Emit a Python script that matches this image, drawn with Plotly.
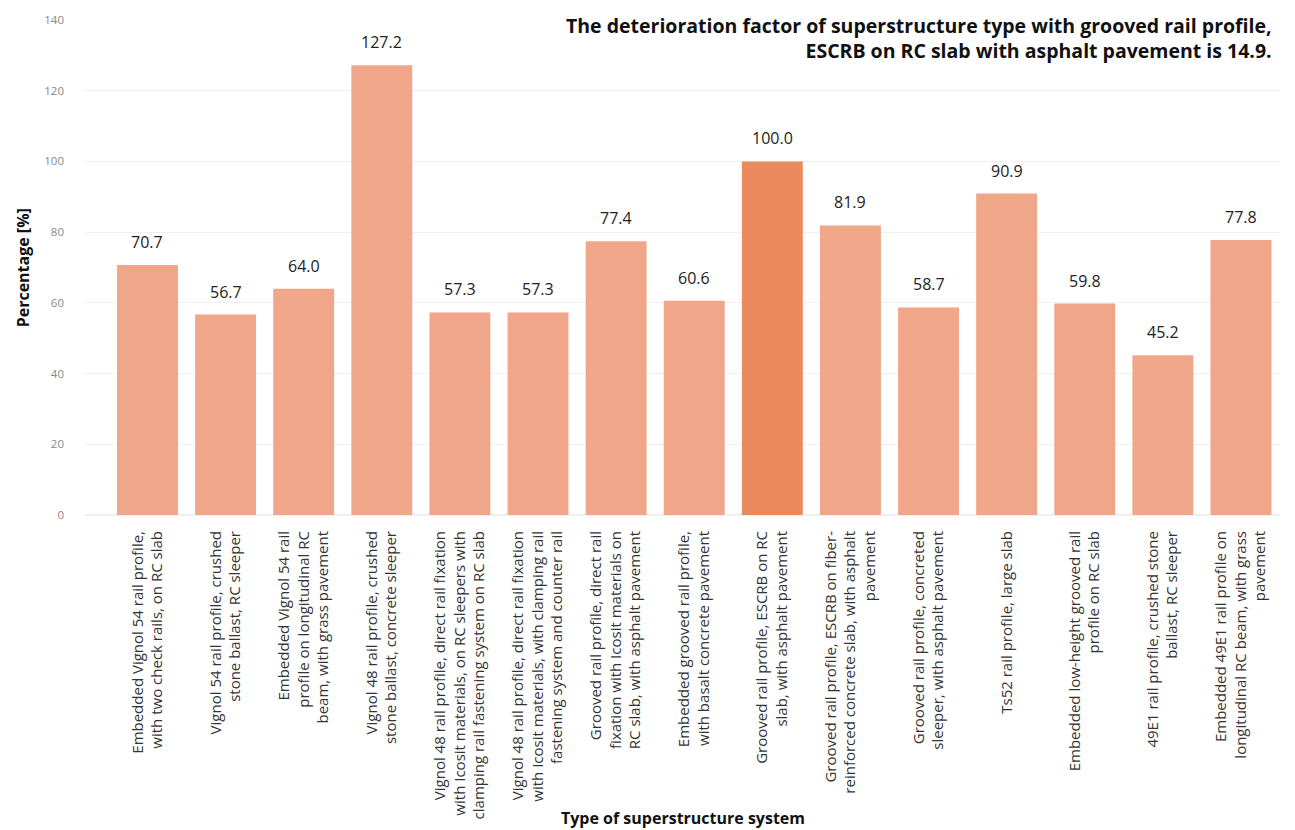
import plotly.graph_objects as go

# superstructure types (tick labels, line-broken as in the figure)
systems = [
    "Embedded Vignol 54 rail profile,<br>with two check rails, on RC slab",
    "Vignol 54 rail profile, crushed<br>stone ballast, RC sleeper",
    "Embedded Vignol 54 rail<br>profile on longitudinal RC<br>beam, with grass pavement",
    "Vignol 48 rail profile, crushed<br>stone ballast, concrete sleeper",
    "Vignol 48 rail profile, direct rail fixation<br>with Icosit materials, on RC sleepers with<br>clamping rail fastening system on RC slab",
    "Vignol 48 rail profile, direct rail fixation<br>with Icosit materials, with clamping rail<br>fastening system and counter rail",
    "Grooved rail profile, direct rail<br>fixation with Icosit materials on<br>RC slab, with asphalt pavement",
    "Embedded grooved rail profile,<br>with basalt concrete pavement",
    "Grooved rail profile, ESCRB on RC<br>slab, with asphalt pavement",
    "Grooved rail profile, ESCRB on fiber-<br>reinforced concrete slab, with asphalt<br>pavement",
    "Grooved rail profile, concreted<br>sleeper, with asphalt pavement",
    "Ts52 rail profile, large slab",
    "Embedded low-height grooved rail<br>profile on RC slab",
    "49E1 rail profile, crushed stone<br>ballast, RC sleeper",
    "Embedded 49E1 rail profile on<br>longitudinal RC beam, with grass<br>pavement",
]
percentage = [70.7, 56.7, 64.0, 127.2, 57.3, 57.3, 77.4, 60.6, 100.0, 81.9, 58.7, 90.9, 59.8, 45.2, 77.8]
reference_index = 8  # the 100 % system

colors = ["#EA8A5D" if i == reference_index else "#F0A689" for i in range(len(percentage))]

fig = go.Figure()
fig.add_trace(go.Bar(
    x=systems, y=percentage,
    marker=dict(color=colors, line=dict(width=0)),
))

# value labels above the bars
for s, v in zip(systems, percentage):
    fig.add_annotation(x=s, y=v, text=f"{v:.1f}", showarrow=False,
                       yanchor="bottom", yshift=10,
                       font=dict(size=16, color="#222222"))

fig.update_layout(
    width=1295, height=830,
    margin=dict(l=77, r=23, t=12, b=323, autoexpand=False),
    paper_bgcolor="white", plot_bgcolor="white",
    font=dict(family="Open Sans, sans-serif", color="#333333"),
    bargap=0.22,
    showlegend=False,
    xaxis=dict(
        tickangle=-90,
        tickfont=dict(size=15, color="#333333"),
        showgrid=False,
        range=[-0.8, 14.5],
        ticklabelstandoff=12,
    ),
    yaxis=dict(
        range=[0, 140], dtick=20,
        tickfont=dict(size=11.5, color="#888888"),
        gridcolor="#F0F0F0", zeroline=True, zerolinecolor="#F0F0F0",
        ticklabelstandoff=20,
    ),
)

fig.add_annotation(
    text="<b>Type of superstructure system</b>", xref="paper", yref="paper",
    x=0.5, y=-0.612, xanchor="center", yanchor="middle", showarrow=False,
    font=dict(size=16, color="#111111"),
)
fig.add_annotation(
    text="<b>Percentage [%]</b>", xref="paper", yref="paper", textangle=-90,
    x=-0.052, y=0.5, xanchor="center", yanchor="middle", showarrow=False,
    font=dict(size=16, color="#111111"),
)
fig.add_annotation(
    text="<b>The deterioration factor of superstructure type with grooved rail profile,<br>ESCRB on RC slab with asphalt pavement is 14.9.</b>",
    xref="paper", yref="paper", x=1.0, y=1.0, xshift=-6, yshift=10, xanchor="right", yanchor="top",
    align="right", showarrow=False,
    font=dict(size=19.5, color="#111111", family="Open Sans, sans-serif"),
)

fig.write_html("out.html")
